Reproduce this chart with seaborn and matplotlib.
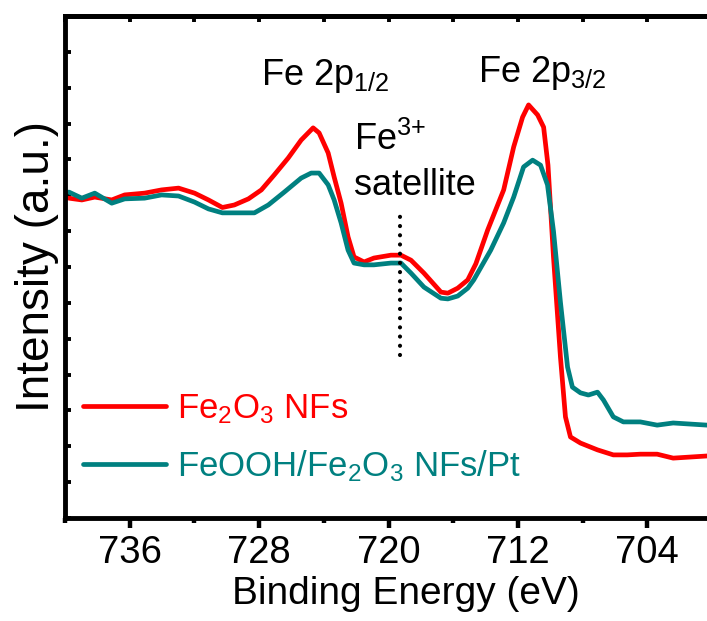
import numpy as np
import pandas as pd
import matplotlib
matplotlib.use("Agg")
import matplotlib.pyplot as plt
from matplotlib.ticker import MultipleLocator, NullFormatter
import seaborn as sns

# ---- data ----
red_E = [739.76, 738.96, 738.16, 737.11, 736.31, 735.08, 734.03, 732.98, 731.99, 731.13,
         730.27, 729.53, 728.66, 727.86, 727.06, 726.20, 725.40, 724.66, 724.29, 723.73,
         723.36, 722.93, 722.50, 722.13, 721.51, 720.90, 719.85, 719.23, 718.61, 717.81,
         716.76, 716.33, 715.72, 715.10, 714.60, 713.87, 712.88, 712.26, 711.71, 711.34,
         710.78, 710.41, 710.14, 709.80, 709.37, 709.06, 708.75, 708.13, 707.08, 706.10,
         705.24, 704.43, 703.39, 702.40, 701.35, 700.30]
red_I = [8.92, 8.87, 8.95, 8.87, 9.01, 9.06, 9.15, 9.20, 9.06, 8.87,
         8.66, 8.73, 8.90, 9.15, 9.57, 10.04, 10.54, 10.88, 10.74, 10.18,
         9.51, 8.78, 7.84, 7.28, 7.14, 7.25, 7.33, 7.33, 7.19, 6.83,
         6.30, 6.27, 6.41, 6.64, 7.09, 8.03, 9.15, 10.35, 11.18, 11.52,
         11.24, 10.90, 9.84, 7.28, 4.49, 2.82, 2.26, 2.09, 1.90, 1.76,
         1.76, 1.78, 1.78, 1.67, 1.70, 1.73]

teal_E = [739.76, 738.96, 738.16, 737.11, 736.31, 735.08, 734.03, 732.98, 731.99, 731.13,
          730.27, 729.53, 728.29, 727.43, 726.44, 725.40, 724.78, 724.29, 723.73, 723.36,
          722.93, 722.50, 722.13, 721.51, 720.90, 719.85, 719.23, 718.61, 717.81, 716.76,
          716.33, 715.72, 715.10, 714.73, 713.68, 712.88, 712.26, 711.65, 711.09, 710.60,
          710.17, 709.80, 709.37, 708.93, 708.63, 708.13, 707.64, 707.08, 706.71, 706.10,
          705.48, 704.43, 703.39, 702.40, 701.35, 700.30]
teal_I = [9.09, 8.92, 9.06, 8.78, 8.90, 8.92, 9.01, 8.98, 8.81, 8.62,
          8.51, 8.51, 8.51, 8.73, 9.09, 9.48, 9.62, 9.62, 9.29, 8.87,
          8.23, 7.47, 7.11, 7.06, 7.06, 7.11, 7.11, 6.83, 6.44, 6.13,
          6.11, 6.19, 6.41, 6.64, 7.47, 8.23, 8.95, 9.79, 9.98, 9.84,
          9.29, 8.00, 6.02, 4.21, 3.65, 3.49, 3.43, 3.51, 3.29, 2.82,
          2.68, 2.68, 2.59, 2.65, 2.62, 2.59]

series_labels = ["Fe$_2$O$_3$ NFs", "FeOOH/Fe$_2$O$_3$ NFs/Pt"]
series_colors = ["#FF0000", "#008080"]

x_major_ticks = [736, 728, 720, 712, 704]
satellite_E = 719.3
satellite_range = [4.55, 8.64]

# ---- style ----
sns.set_style("ticks")
plt.rcParams["font.family"] = ["Liberation Sans", "DejaVu Sans"]
plt.rcParams["mathtext.fontset"] = "custom"
plt.rcParams["mathtext.rm"] = "Liberation Sans"
plt.rcParams["mathtext.it"] = "Liberation Sans:italic"
plt.rcParams["mathtext.bf"] = "Liberation Sans:bold"
plt.rcParams["mathtext.default"] = "regular"
for k in ["text.color", "axes.labelcolor", "xtick.color", "ytick.color", "axes.edgecolor"]:
    plt.rcParams[k] = "black"

df = pd.concat([
    pd.DataFrame({"E": red_E, "I": red_I, "sample": series_labels[0]}),
    pd.DataFrame({"E": teal_E, "I": teal_I, "sample": series_labels[1]}),
], ignore_index=True)

fig = plt.figure(figsize=(7.07, 6.21), dpi=100)
ax = fig.add_axes([65 / 707, 1 - 518 / 621, (712 - 65) / 707, (518 - 16) / 621])

sns.lineplot(data=df, x="E", y="I", hue="sample", palette=series_colors,
             hue_order=series_labels, estimator=None, sort=False,
             linewidth=3.4, legend=False, ax=ax)
for ln in ax.lines:
    ln.set_solid_joinstyle("round")
    ln.set_solid_capstyle("round")

# satellite marker line
ax.plot([satellite_E, satellite_E], satellite_range, color="black", lw=3.0,
        linestyle=(0, (0.01, 2.2)), dash_capstyle="round")

ax.set_xlim(740, 700)
ax.set_ylim(0, 14)

# spines
for s in ["left", "bottom", "top", "right"]:
    ax.spines[s].set_linewidth(3.5)
    ax.spines[s].set_color("black")

# x ticks
ax.set_xticks(x_major_ticks)
ax.xaxis.set_minor_locator(MultipleLocator(4))
ax.tick_params(axis="x", which="major", direction="out", length=7.5, width=3.2,
               labelsize=27.5, pad=5, top=False, colors="black")
ax.tick_params(axis="x", which="minor", direction="out", length=3.5, width=3.2, top=False)

# y ticks
ax.yaxis.set_major_locator(MultipleLocator(1))
ax.yaxis.set_major_formatter(NullFormatter())
ax.tick_params(axis="y", which="major", direction="in", length=4, width=2.8,
               left=True, right=False, labelleft=False)

# top ticks (inward, every 4 eV)
sec = ax.secondary_xaxis("top")
sec.set_xticks(np.arange(740, 699, -4))
sec.tick_params(direction="in", length=4, width=2.8, labeltop=False)
sec.spines["top"].set_linewidth(3.5)

ax.set_xlabel("Binding Energy (eV)", fontsize=28, labelpad=3)
ax.xaxis.label.set_x((406 - 65) / 647)
ax.set_ylabel("Intensity (a.u.)", fontsize=33, labelpad=4)

# annotations
ax.text(727.86, 12.07, "Fe 2p$_{1/2}$", fontsize=26, ha="left", va="baseline")
ax.text(714.48, 12.16, "Fe 2p$_{3/2}$", fontsize=26, ha="left", va="baseline")
ax.text(722.13, 10.26, "Fe$^{3{+}}$", fontsize=26, ha="left", va="baseline")
ax.text(722.13, 9.01, "satellite", fontsize=26, ha="left", va="baseline")

# legend
handles = [plt.Line2D([], [], color=c, lw=3.4) for c in series_colors]
ax.legend(handles, series_labels, loc="center left",
          bbox_to_anchor=((83 - 65) / 647, (518 - 438) / 502),
          frameon=False, fontsize=25, handlelength=2.4, handletextpad=0.32,
          labelspacing=0.65, borderpad=0, borderaxespad=0, labelcolor="linecolor")

fig.savefig("out.png", dpi=100)
